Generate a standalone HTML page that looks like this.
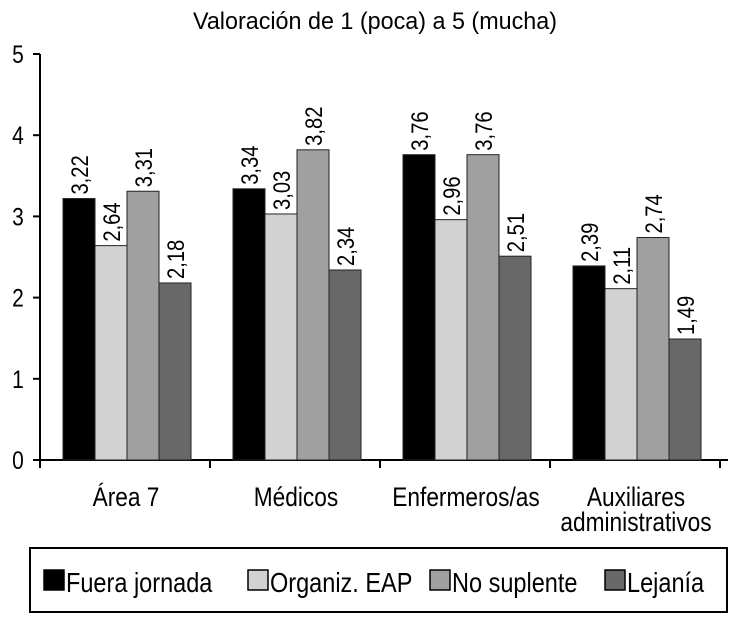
<!DOCTYPE html>
<html><head><meta charset="utf-8"><style>
body{margin:0;background:#fff}
svg text{font-family:"Liberation Sans",sans-serif;fill:#000}
</style></head><body>
<svg id="c" width="730" height="628" viewBox="0 0 730 628">
<text x="375" y="29" font-size="24" text-anchor="middle" textLength="364" lengthAdjust="spacingAndGlyphs">Valoración de 1 (poca) a 5 (mucha)</text>
<g id="axes"></g><g id="bars"></g>
<rect x="30" y="548" width="697" height="64" fill="none" stroke="#000" stroke-width="2"/>
<g id="legend"></g>
</svg>
<script>
const categories=[["Área 7"],["Médicos"],["Enfermeros/as"],["Auxiliares","administrativos"]];
const seriesNames=["Fuera jornada","Organiz. EAP","No suplente","Lejanía"];
const fuera=[3.22,3.34,3.76,2.39];
const organiz=[2.64,3.03,2.96,2.11];
const noSuplente=[3.31,3.82,3.76,2.74];
const lejania=[2.18,2.34,2.51,1.49];
const yTicks=[0,1,2,3,4,5];
const colors=["#000","#d2d2d2","#a0a0a0","#686868"];
const series=[fuera,organiz,noSuplente,lejania];
const NS="http://www.w3.org/2000/svg";
const x0=40,xEnd=720,y0=460,yTop=54,ymax=5,SX=0.84;
const y=v=>y0-(v/ymax)*(y0-yTop);
const gw=(xEnd-x0)/categories.length,bw=32,pad=(gw-4*bw)/2+2;
const bx=(i,s)=>x0+i*gw+pad+s*bw;
function mk(t,a,p){const e=document.createElementNS(NS,t);for(const k in a)e.setAttribute(k,a[k]);(p||document.getElementById('axes')).appendChild(e);return e;}
function txt(x,yy,size,anchor,str,p,rot){const e=mk('text',{x:0,y:0,'font-size':size,'text-anchor':anchor,transform:`translate(${x} ${yy})${rot?' rotate(-90)':''} scale(${SX} 1)`},p);e.textContent=str;return e;}
let l=mk('line',{x1:x0,y1:yTop,x2:x0,y2:y0,stroke:'#000','stroke-width':2});


l=mk('line',{x1:x0,y1:y0,x2:xEnd+8,y2:y0,stroke:'#000','stroke-width':2});


yTicks.forEach(t=>{mk('line',{x1:x0-7,x2:x0,y1:y(t),y2:y(t),stroke:'#000','stroke-width':2});
const tx=txt(18,y(t)+9,25,'middle',String(t));

});
categories.forEach((c,i)=>{const xt=x0+i*gw;mk('line',{x1:xt,x2:xt,y1:y0,y2:y0+8,stroke:'#000','stroke-width':2});
c.forEach((ln,j)=>{const tx=txt(xt+gw/2+1,y0+46+j*25,27,'middle',ln);

});});
mk('line',{x1:xEnd,x2:xEnd,y1:y0,y2:y0+8,stroke:'#000','stroke-width':2});
const bars=document.getElementById('bars');
series.forEach((s,si)=>s.forEach((v,i)=>{
const r=mk('rect',{x:bx(i,si),y:y(v),width:bw,height:y0-y(v),fill:colors[si],stroke:'#222','stroke-width':1},bars);


const t=txt(bx(i,si)+bw/2+9,y(v)-4,24,'start',v.toFixed(2).replace('.',','),bars,true);

}));
const lg=document.getElementById('legend');
const lxs=[44,248,430,605];
seriesNames.forEach((n,i)=>{
const r=mk('rect',{x:lxs[i],y:570,width:20,height:20,fill:colors[i],stroke:'#000','stroke-width':1.5},lg);


const t=txt(lxs[i]+22,592,28,'start',n,lg);

});
</script>
</body></html>
